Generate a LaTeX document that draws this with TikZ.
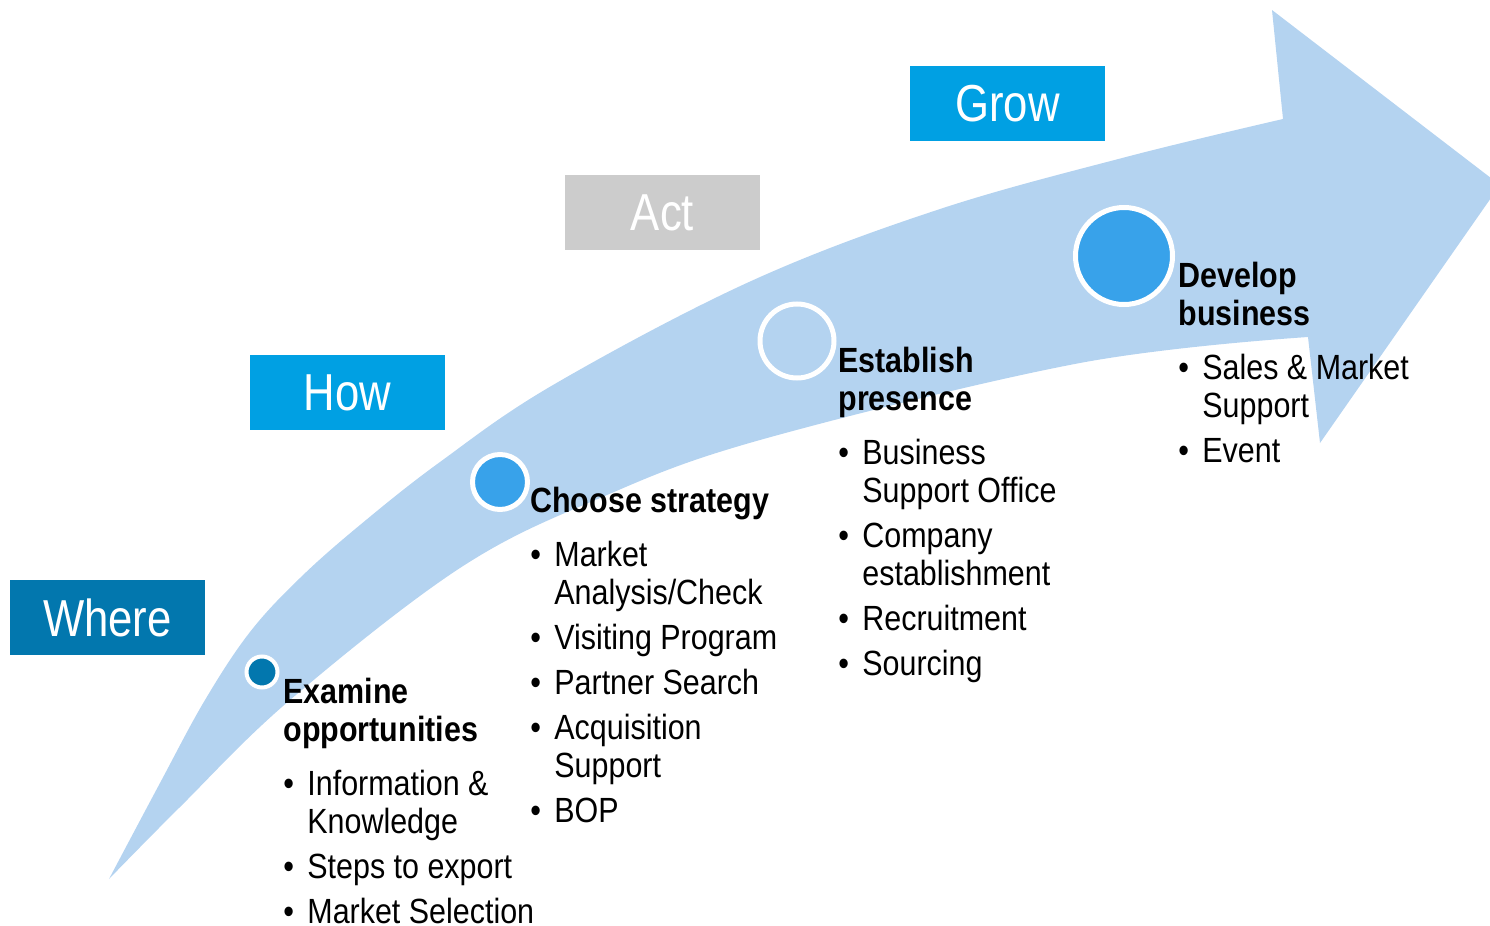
\documentclass[tikz,border=0pt]{standalone}
\usepackage{fontspec}
\setmainfont{Liberation Sans}
\newfontfamily\bodyfont[FakeStretch=0.87]{Liberation Sans}
\newfontfamily\headfont[FakeStretch=0.84]{Liberation Sans}
\definecolor{arrowblue}{HTML}{B4D3F0}
\definecolor{wherec}{HTML}{0277AE}
\definecolor{howc}{HTML}{00A0E3}
\definecolor{actc}{HTML}{CCCCCC}
\definecolor{circblue}{HTML}{38A2EA}
\newcommand\itm[1]{\makebox[12pt][l]{\textbullet}#1}
\newcommand\cnt[1]{\hspace*{12pt}#1}
\begin{document}
\begin{tikzpicture}[x=0.5pt,y=-0.5pt,
  hdr/.style={minimum width=97.5pt, minimum height=37.5pt, inner sep=0pt, text=white,
    font=\headfont\fontsize{26pt}{30pt}\selectfont},
  dot/.style={circle, draw=white, inner sep=0pt},
  txt/.style={anchor=base west, inner sep=0pt, text=black,
    font=\bodyfont\fontsize{17.5pt}{19pt}\selectfont}]
\useasboundingbox (0,0) rectangle (1490,926);
\begin{scope}
\clip (0,0) rectangle (1490,926);
\fill[arrowblue] (109,879) -- plot[smooth,tension=0.6] coordinates {(109,879) (160,783) (205,700) (250,632) (300,578) (360,525) (440,462) (553,385) (749,282) (937,210) (1126,157) (1283,119)}
  -- (1272,10) -- (1500,185) -- (1320,443) -- (1308,337)
  -- plot[smooth,tension=0.6] coordinates {(1308,337) (1080,363) (760,440) (600,498) (460,568) (290,700) (180,807) (109,879)} -- cycle;
\end{scope}
% header boxes
\node[hdr, fill=wherec] (where) at (107.5,617.5) {Where};
\node[hdr, fill=howc] (how) at (347.5,392.5) {How};
\node[hdr, fill=actc] (act) at (662.5,212.5) {Act};
\node[hdr, fill=howc] (grow) at (1007.5,103.5) {Grow};
% circles
\node[dot, fill=wherec, line width=2pt, minimum size=15.5pt] (c1) at (262,672) {};
\node[dot, fill=circblue, line width=2.5pt, minimum size=27.5pt] (c2) at (500,482) {};
\node[dot, line width=2.5pt, minimum size=37pt] (c3) at (797,341) {};
\node[dot, fill=circblue, line width=2.5pt, minimum size=48.5pt] (c4) at (1124,256) {};
% texts
\node[txt] (t1) at (283,703) {\begin{tabular}[t]{@{}l@{}}
\textbf{Examine}\\
\textbf{opportunities}\\[8pt]
\itm{Information \&}\\
\cnt{Knowledge}\\[3.5pt]
\itm{Steps to export}\\[3.5pt]
\itm{Market Selection}
\end{tabular}};
\node[txt] (t2) at (530,512) {\begin{tabular}[t]{@{}l@{}}
\textbf{Choose strategy}\\[8pt]
\itm{Market}\\
\cnt{Analysis/Check}\\[3.5pt]
\itm{Visiting Program}\\[3.5pt]
\itm{Partner Search}\\[3.5pt]
\itm{Acquisition}\\
\cnt{Support}\\[3.5pt]
\itm{BOP}
\end{tabular}};
\node[txt] (t3) at (838,372) {\begin{tabular}[t]{@{}l@{}}
\textbf{Establish}\\
\textbf{presence}\\[8pt]
\itm{Business}\\
\cnt{Support Office}\\[3.5pt]
\itm{Company}\\
\cnt{establishment}\\[3.5pt]
\itm{Recruitment}\\[3.5pt]
\itm{Sourcing}
\end{tabular}};
\node[txt] (t4) at (1178,287) {\begin{tabular}[t]{@{}l@{}}
\textbf{Develop}\\
\textbf{business}\\[8pt]
\itm{Sales \& Market}\\
\cnt{Support}\\[3.5pt]
\itm{Event}
\end{tabular}};
\end{tikzpicture}
\end{document}
